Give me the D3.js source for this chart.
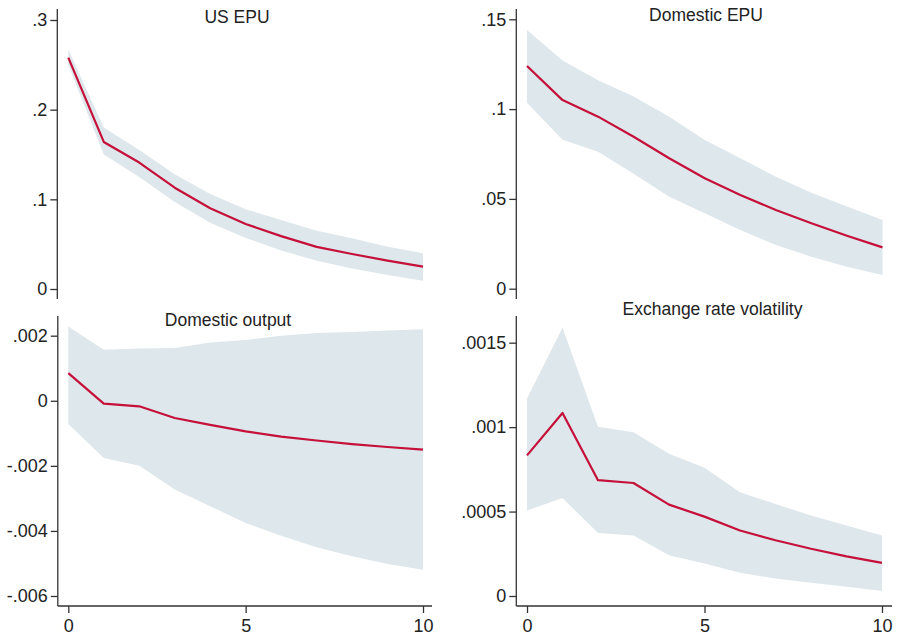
<!DOCTYPE html>
<html>
<head>
<meta charset="utf-8">
<script src="https://cdn.jsdelivr.net/npm/d3@7"></script>
<style>
  body { margin: 0; background: #fff; }
  svg { display: block; }
  text { font-family: "Liberation Sans", Arial, sans-serif; }
</style>
</head>
<body>
<div id="chart"></div>
<script>
const width = 897, height = 636;

// horizon (steps after the shock)
const steps = [0, 1, 2, 3, 4, 5, 6, 7, 8, 9, 10];
const xTicks = [0, 5, 10];

// US EPU
const usEpuIrf = [0.258, 0.164, 0.141, 0.113, 0.090, 0.0725, 0.059, 0.047, 0.039, 0.0316, 0.025];
const usEpuLo  = [0.250, 0.150, 0.125, 0.097, 0.074, 0.057, 0.043, 0.0316, 0.023, 0.0156, 0.0093];
const usEpuHi  = [0.267, 0.180, 0.155, 0.128, 0.106, 0.089, 0.077, 0.065, 0.0565, 0.047, 0.040];
const usEpuTicks = [0, 0.1, 0.2, 0.3];
const usEpuLabels = ["0", ".1", ".2", ".3"];

// Domestic EPU
const domEpuIrf = [0.124, 0.105, 0.0958, 0.0846, 0.0726, 0.0615, 0.0522, 0.0438, 0.0364, 0.0295, 0.023];
const domEpuLo  = [0.1036, 0.083, 0.0763, 0.064, 0.0512, 0.042, 0.0327, 0.0243, 0.0178, 0.0122, 0.0076];
const domEpuHi  = [0.144, 0.127, 0.116, 0.107, 0.0958, 0.0828, 0.0726, 0.0624, 0.0534, 0.0457, 0.0382];
const domEpuTicks = [0, 0.05, 0.1, 0.15];
const domEpuLabels = ["0", ".05", ".1", ".15"];

// Domestic output
const outputIrf = [0.00085, -0.00009, -0.00017, -0.00053, -0.00074, -0.00094, -0.0011, -0.00122, -0.00133, -0.00142, -0.0015];
const outputLo  = [-0.00071, -0.00176, -0.0020, -0.00273, -0.00324, -0.00376, -0.00415, -0.0045, -0.00478, -0.00502, -0.00519];
const outputHi  = [0.00228, 0.00157, 0.00161, 0.00162, 0.00179, 0.00187, 0.0020, 0.00208, 0.00211, 0.00216, 0.0022];
const outputTicks = [-0.006, -0.004, -0.002, 0, 0.002];
const outputLabels = ["-.006", "-.004", "-.002", "0", ".002"];

// Exchange rate volatility
const fxIrf = [0.000833, 0.001084, 0.000686, 0.000669, 0.000541, 0.00047, 0.000388, 0.00033, 0.00028, 0.000235, 0.000196];
const fxLo  = [0.000506, 0.00058, 0.000373, 0.000359, 0.000241, 0.000192, 0.000137, 0.000104, 0.0000784, 0.000055, 0.0000294];
const fxHi  = [0.00117, 0.001588, 0.001002, 0.00097, 0.000843, 0.00076, 0.000614, 0.000545, 0.000476, 0.000418, 0.000359];
const fxTicks = [0, 0.0005, 0.001, 0.0015];
const fxLabels = ["0", ".0005", ".001", ".0015"];

const panels = [
  { title: "US EPU", irf: usEpuIrf, lo: usEpuLo, hi: usEpuHi, ticks: usEpuTicks, labels: usEpuLabels,
    axisX: 57.3, x0: 68.3, x1: 423, top: 9, bottom: 299, yDom: [0, 0.3], yRange: [289, 20],
    titleX: 237, titleY: 23, xAxis: false },
  { title: "Domestic EPU", irf: domEpuIrf, lo: domEpuLo, hi: domEpuHi, ticks: domEpuTicks, labels: domEpuLabels,
    axisX: 516.3, x0: 527, x1: 882.5, top: 9, bottom: 299, yDom: [0, 0.15], yRange: [288.7, 19.3],
    titleX: 706, titleY: 21, xAxis: false },
  { title: "Domestic output", irf: outputIrf, lo: outputLo, hi: outputHi, ticks: outputTicks, labels: outputLabels,
    axisX: 57.8, x0: 68.3, x1: 423, top: 316, bottom: 606, yDom: [-0.006, 0.002], yRange: [596, 335.7],
    titleX: 228, titleY: 325.5, xAxis: true, axisRight: 432 },
  { title: "Exchange rate volatility", irf: fxIrf, lo: fxLo, hi: fxHi, ticks: fxTicks, labels: fxLabels,
    axisX: 516.3, x0: 527, x1: 882, top: 316, bottom: 606, yDom: [0, 0.0015], yRange: [596, 342.7],
    titleX: 712.5, titleY: 315, xAxis: true, axisRight: 892 }
];

const svg = d3.select("#chart")
  .append("svg")
  .attr("width", width)
  .attr("height", height)
  .attr("viewBox", [0, 0, width, height]);

svg.append("rect").attr("width", width).attr("height", height).attr("fill", "#fff");

panels.forEach(p => {
  const x = d3.scaleLinear().domain([0, 10]).range([p.x0, p.x1]);
  const y = d3.scaleLinear().domain(p.yDom).range(p.yRange);
  const g = svg.append("g");

  const rows = steps.map((s, i) => ({ s, v: p.irf[i], lo: p.lo[i], hi: p.hi[i] }));

  // confidence band
  g.append("path")
    .datum(rows)
    .attr("fill", "#dee7ec")
    .attr("d", d3.area().x(d => x(d.s)).y0(d => y(d.lo)).y1(d => y(d.hi)));

  // impulse response
  g.append("path")
    .datum(rows)
    .attr("fill", "none")
    .attr("stroke", "#c5103a")
    .attr("stroke-width", 2.2)
    .attr("stroke-linejoin", "round")
    .attr("d", d3.line().x(d => x(d.s)).y(d => y(d.v)));

  // y axis
  const ya = g.append("g")
    .attr("transform", `translate(${p.axisX},0)`)
    .call(d3.axisLeft(y).tickValues(p.ticks).tickFormat((d, i) => p.labels[i]).tickSize(7).tickPadding(3));
  ya.select(".domain").remove();
  ya.selectAll(".tick line").attr("stroke", "#333").attr("stroke-width", 1.3);
  ya.selectAll(".tick text").attr("fill", "#222").style("font-size", "18px")
    .style("font-family", "'Liberation Sans', Arial, sans-serif");
  g.append("line")
    .attr("x1", p.axisX).attr("x2", p.axisX)
    .attr("y1", p.top).attr("y2", p.bottom)
    .attr("stroke", "#333").attr("stroke-width", 1.3);

  // x axis (bottom row only)
  if (p.xAxis) {
    const xa = g.append("g")
      .attr("transform", `translate(0,${p.bottom})`)
      .call(d3.axisBottom(x).tickValues(xTicks).tickFormat(d3.format("d")).tickSize(7).tickPadding(6));
    xa.select(".domain").remove();
    xa.selectAll(".tick line").attr("stroke", "#333").attr("stroke-width", 1.3);
    xa.selectAll(".tick text").attr("fill", "#222").style("font-size", "18px")
      .style("font-family", "'Liberation Sans', Arial, sans-serif");
    g.append("line")
      .attr("x1", p.axisX).attr("x2", p.axisRight)
      .attr("y1", p.bottom).attr("y2", p.bottom)
      .attr("stroke", "#333").attr("stroke-width", 1.3);
  }

  // panel title
  g.append("text")
    .attr("x", p.titleX)
    .attr("y", p.titleY)
    .attr("text-anchor", "middle")
    .attr("fill", "#222")
    .style("font-size", "17.5px")
    .text(p.title);
});
</script>
</body>
</html>
